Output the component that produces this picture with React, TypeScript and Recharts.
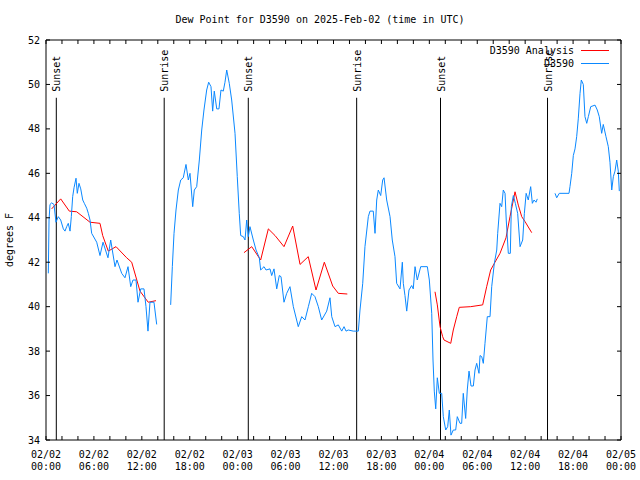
import React from 'react';
import { LineChart, Line, XAxis, YAxis, ReferenceLine } from 'recharts';

// hours since 02/02 00:00 UTC; null value = gap in the record
const dewTimes = [
  0.29, 0.38, 0.5, 0.71, 1.0, 1.25, 1.54, 1.84, 2.17, 2.38, 2.59, 2.79, 3.01, 3.17, 3.34, 3.51, 3.76, 3.92,
  4.13, 4.35, 4.6, 4.8, 5.1, 5.3, 5.51, 5.72, 6.35, 6.76, 7.14, 7.76, 8.1, 8.64, 8.89, 9.48, 9.89, 10.27,
  10.61, 10.89, 11.27, 11.52, 11.86, 12.27, 12.52, 12.77, 13.02, 13.52, 13.86,
  14.5,
  15.61, 15.82, 16.03, 16.28, 16.57, 16.87, 17.19, 17.53, 17.82, 18.03, 18.37, 18.57, 18.87, 19.2, 19.5,
  19.78, 20.12, 20.37, 20.66, 20.87, 21.07, 21.38, 21.66, 21.91, 22.2, 22.41, 22.63, 22.95, 23.25, 23.67,
  23.95, 24.2, 24.38, 24.71, 24.92, 25.13, 25.33, 25.54, 25.96, 26.3, 26.71, 26.88, 27.3, 27.55, 28.05,
  28.26, 28.55, 28.89, 29.21, 29.43, 29.8, 30.14, 30.55, 30.97, 31.59, 32.02, 32.43, 32.85, 33.27, 33.68,
  34.1, 34.52, 35.15, 35.56, 35.78, 36.19, 36.6, 37.03, 37.32, 37.57, 37.85, 38.48, 39.11, 39.32, 39.66,
  39.94, 40.36, 40.57, 40.98, 41.2, 41.41, 41.61, 41.91, 42.16, 42.33, 42.66, 43.08, 43.36, 43.7, 43.91,
  44.33, 44.62, 44.74, 44.95, 45.17, 45.45, 45.79, 45.99, 46.21, 46.49, 46.92, 47.75, 48.0, 48.3, 48.46,
  48.62, 48.8, 49.0, 49.25, 49.55, 49.75, 50.05, 50.3, 50.5, 50.71, 51.0, 51.3, 51.5, 51.84, 52.05, 52.25,
  52.55, 52.75, 52.97, 53.22, 53.51, 53.72, 53.93, 54.22, 54.35, 54.56, 54.76, 54.97, 55.26, 55.6, 55.81,
  56.14, 56.44, 56.56, 56.85, 57.06, 57.26, 57.48, 57.63, 57.89, 58.14, 58.27, 58.52, 58.77, 59.06, 59.36,
  59.69, 59.9, 60.12, 60.39, 60.69, 60.9, 61.11, 61.36, 61.52,
  62.5,
  63.74, 63.95, 64.27, 65.49, 65.61, 65.83, 66.03, 66.24, 66.45, 66.65, 66.87, 67.03, 67.28, 67.49, 67.71,
  67.91, 68.21, 68.75, 69.03, 69.28, 69.58, 69.78, 70.12, 70.41, 70.62, 70.84, 71.04, 71.25, 71.46, 71.66,
  71.79,
];
const dewValues = [
  41.5, 43.9, 44.6, 44.67, 44.6, 43.8, 44.05, 43.9, 43.5, 43.4, 43.6, 43.75, 43.4, 44.05, 44.95, 45.35, 45.78, 45.1,
  45.55, 45.3, 44.8, 44.65, 44.43, 44.2, 43.9, 43.3, 42.9, 42.3, 42.9, 42.2, 43.0, 41.8, 42.1, 41.5, 41.3, 41.8,
  40.9, 41.2, 41.2, 40.2, 40.8, 40.8, 40.0, 38.9, 40.2, 40.2, 39.2,
  null,
  40.08, 41.8, 43.3, 44.35, 45.25, 45.7, 45.8, 46.4, 45.7, 46.0, 44.5, 45.25, 45.4, 46.6, 47.95,
  48.85, 49.75, 50.1, 49.9, 48.8, 49.7, 48.9, 48.9, 49.75, 49.7, 50.1, 50.65, 50.05, 49.3, 47.8,
  45.85, 44.2, 43.2, 43.15, 43.0, 43.9, 43.15, 43.6, 43.0, 42.55, 42.2, 41.65, 41.8, 41.65, 41.7,
  41.4, 41.7, 40.8, 41.4, 41.35, 40.2, 40.6, 40.9, 40.0, 39.1, 39.55, 39.4, 40.0, 40.6, 40.45,
  40.0, 39.4, 39.8, 40.4, 39.55, 39.1, 39.18, 38.9, 39.1, 38.9, 38.95, 38.9, 38.9, 39.85, 41.05,
  42.7, 44.05, 44.3, 44.3, 43.3, 44.8, 45.25, 45.0, 45.7, 45.8, 44.8, 44.05, 43.0, 42.25, 41.05,
  40.8, 42.0, 41.05, 40.5, 39.8, 40.75, 40.95, 40.8, 41.8, 41.2, 41.8, 41.8, 41.2, 39.7, 37.6,
  36.2, 35.4, 36.8, 36.1, 36.1, 35.05, 34.45, 34.6, 35.35, 34.22, 34.45, 34.45, 35.05, 34.75, 34.75, 36.1,
  34.97, 36.25, 37.1, 36.43, 36.43, 37.15, 37.45, 37.0, 37.8, 37.75, 37.45, 38.35, 39.55, 39.55, 40.9,
  41.95, 42.55, 43.3, 44.65, 44.5, 45.25, 45.1, 43.9, 42.4, 42.4, 44.5, 45.0, 44.65, 44.2, 42.7,
  43.0, 44.2, 45.1, 44.8, 45.4, 44.65, 44.8, 44.7, 44.85,
  null,
  45.1, 44.9, 45.1, 45.1, 45.4, 46.0, 46.8, 47.1, 47.65, 48.45, 49.6, 50.2, 50.0, 48.55, 48.25,
  48.55, 49.0, 49.07, 48.85, 48.55, 47.8, 48.2, 47.65, 47.2, 46.5, 45.25, 45.85, 46.1, 46.6, 46.1,
  45.2,
];

const analysisTimes = [
  0.71, 1.84, 2.92, 3.84, 5.51, 6.76, 7.1, 7.8, 8.77, 10.1, 10.73, 11.77, 12.8, 13.77,
  19.0,
  24.79, 25.76, 26.88, 27.84, 28.68, 29.8, 30.89, 31.81, 32.84, 33.81, 34.85, 35.9, 36.6, 37.73,
  43.0,
  48.71, 49.0, 49.34, 49.67, 49.84, 50.68, 51.0, 51.43, 51.75, 53.18, 54.68, 55.18, 55.68, 56.22, 56.85,
  57.6, 58.1, 58.73, 59.14, 59.57, 59.98, 60.82,
];
const analysisValues = [
  44.4, 44.85, 44.3, 44.27, 43.8, 43.75, 43.2, 42.5, 42.7, 42.2, 42.0, 40.7, 40.2, 40.27,
  null,
  42.43, 42.7, 42.1, 43.5, 43.2, 42.7, 43.63, 41.9, 42.25, 40.75, 42.0, 40.93, 40.6, 40.57,
  null,
  40.67, 40.08, 39.1, 38.65, 38.5, 38.35, 38.95, 39.55, 39.97, 40.0, 40.08, 40.9, 41.65, 42.0, 42.4,
  43.1, 44.05, 45.17, 44.57, 44.05, 43.83, 43.33,
];

const sunTimes = [1.29, 14.8, 25.33, 38.9, 49.4, 62.8];
const sunLabels = ['Sunset', 'Sunrise', 'Sunset', 'Sunrise', 'Sunset', 'Sunrise'];

const yTicks = [34, 36, 38, 40, 42, 44, 46, 48, 50, 52];
const xLabelTicks = [0, 6, 12, 18, 24, 30, 36, 42, 48, 54, 60, 66, 72];
const xMinorTicks = Array.from({ length: 37 }, (_, i) => i * 2);
const dayLabels = ['02/02', '02/03', '02/04', '02/05'];

const dewData = dewTimes.map((t, i) => ({ t, v: dewValues[i] }));
const analysisData = analysisTimes.map((t, i) => ({ t, v: analysisValues[i] }));

const FONT = '"DejaVu Sans Mono", monospace';
const BLUE = '#0a88ff';
const RED = '#ff0000';

const XTick = (props: any) => {
  const { x, y, payload } = props;
  const h = payload.value;
  const day = dayLabels[Math.floor(h / 24)];
  const hh = String(h % 24).padStart(2, '0') + ':00';
  return (
    <text x={x} y={y} textAnchor="middle" fontFamily={FONT} fontSize={10} fill="#000">
      <tspan x={x} dy={18}>{day}</tspan>
      <tspan x={x} dy={12}>{hh}</tspan>
    </text>
  );
};

const NoTick = () => <g />;

const SunLabel = (text: string) => (props: any) => {
  const vb = props.viewBox || {};
  const x = vb.x ?? 0;
  const y = vb.y ?? 0;
  return (
    <text
      x={x}
      y={y - 6}
      transform={`rotate(-90 ${x} ${y - 6})`}
      dy={4}
      textAnchor="start"
      fontFamily={FONT}
      fontSize={10}
      fill="#000"
    >
      {text}
    </text>
  );
};

const App = () => {
  return (
    <div style={{ position: 'absolute', left: 0, top: 0, width: 640, height: 480, background: '#fff' }}>
      <div
        style={{
          position: 'absolute',
          top: 14,
          left: 0,
          width: 640,
          textAlign: 'center',
          fontFamily: FONT,
          fontSize: 10,
          lineHeight: '12px',
        }}
      >
        Dew Point for D3590 on 2025-Feb-02 (time in UTC)
      </div>
      <LineChart width={640} height={480} margin={{ top: 40, right: 19, left: 0, bottom: 0 }}>
        <XAxis
          xAxisId="b"
          type="number"
          dataKey="t"
          domain={[0, 72]}
          ticks={xLabelTicks}
          allowDataOverflow
          height={40}
          tick={XTick}
          tickLine={false}
          axisLine={false}
          tickSize={0}
          tickMargin={0}
          interval={0}
        />
        <XAxis
          xAxisId="bm"
          type="number"
          dataKey="t"
          domain={[0, 72]}
          ticks={xMinorTicks}
          allowDataOverflow
          orientation="bottom"
          mirror
          tick={NoTick}
          tickSize={4}
          stroke="#000"
          interval={0}
        />
        <XAxis
          xAxisId="tm"
          type="number"
          dataKey="t"
          domain={[0, 72]}
          ticks={xMinorTicks}
          allowDataOverflow
          orientation="top"
          mirror
          tick={NoTick}
          tickSize={4}
          stroke="#000"
          interval={0}
        />
        <YAxis
          yAxisId="l"
          type="number"
          domain={[34, 52]}
          ticks={yTicks}
          allowDataOverflow
          width={46}
          tickLine={false}
          axisLine={false}
          tickSize={0}
          tickMargin={6}
          interval={0}
          tick={{ fontFamily: FONT, fontSize: 10, fill: '#000' }}
          label={(p: any) => {
            const vb = p.viewBox;
            const cx = 13;
            const cy = vb.y + vb.height / 2;
            return (
              <text x={cx} y={cy} transform={`rotate(-90 ${cx} ${cy})`} textAnchor="middle" fontFamily={FONT} fontSize={10} fill="#000">
                degrees F
              </text>
            );
          }}
        />
        <YAxis
          yAxisId="lm"
          type="number"
          domain={[34, 52]}
          ticks={yTicks}
          allowDataOverflow
          orientation="left"
          mirror
          tick={NoTick}
          tickSize={4}
          stroke="#000"
          interval={0}
        />
        <YAxis
          yAxisId="rm"
          type="number"
          domain={[34, 52]}
          ticks={yTicks}
          allowDataOverflow
          orientation="right"
          mirror
          tick={NoTick}
          tickSize={4}
          stroke="#000"
          interval={0}
        />
        {sunTimes.map((t, i) => (
          <ReferenceLine
            key={i}
            xAxisId="b"
            yAxisId="l"
            segment={[
              { x: t, y: 34 },
              { x: t, y: 49.4 },
            ]}
            stroke="#000"
            strokeWidth={1}
            label={SunLabel(sunLabels[i])}
          />
        ))}
        <Line
          xAxisId="b"
          yAxisId="l"
          data={analysisData}
          dataKey="v"
          type="linear"
          stroke={RED}
          strokeWidth={1}
          dot={false}
          isAnimationActive={false}
          connectNulls={false}
        />
        <Line
          xAxisId="b"
          yAxisId="l"
          data={dewData}
          dataKey="v"
          type="linear"
          stroke={BLUE}
          strokeWidth={1}
          dot={false}
          isAnimationActive={false}
          connectNulls={false}
        />
      </LineChart>
      <div style={{ position: 'absolute', top: 44, left: 440, width: 180, fontFamily: FONT, fontSize: 10, lineHeight: '13px' }}>
        {[
          { name: 'D3590 Analysis', color: RED },
          { name: 'D3590', color: BLUE },
        ].map((s) => (
          <div key={s.name} style={{ display: 'flex', alignItems: 'center', justifyContent: 'flex-end' }}>
            <span>{s.name}</span>
            <span style={{ display: 'inline-block', width: 28, height: 1, background: s.color, marginLeft: 7, marginRight: 11 }} />
          </div>
        ))}
      </div>
    </div>
  );
};

export default App;
